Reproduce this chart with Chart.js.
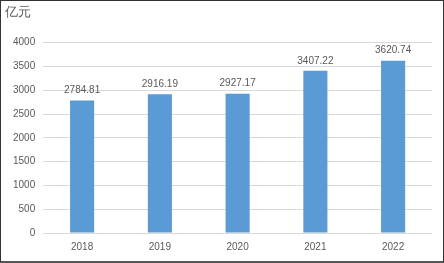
<!DOCTYPE html>
<html><head><meta charset="utf-8">
<script src="https://cdn.jsdelivr.net/npm/chart.js@4/dist/chart.umd.min.js"></script>
<style>
html,body{margin:0;padding:0;background:#fff;}
#wrap{position:relative;width:444px;height:263px;}
#frame{position:absolute;left:0;top:0;right:0;bottom:0;box-sizing:border-box;border:1px solid #333;border-bottom:2px solid #555;pointer-events:none;}
canvas{display:block;}
</style></head>
<body>
<div id="wrap"><canvas id="c" width="444" height="263"></canvas><div id="frame"></div></div>
<script>
const categories = ["2018","2019","2020","2021","2022"];
const values = [2784.81, 2916.19, 2927.17, 3407.22, 3620.74];
const unitLabel = "亿元";
const yTicksMin = 0, yTicksMax = 4000, yTicksStep = 500;

const FONT = "'Liberation Sans', Arial, sans-serif";
const TXT = "#595959";

const valueLabels = {
  id: 'valueLabels',
  afterDatasetsDraw(chart) {
    const ctx = chart.ctx;
    const meta = chart.getDatasetMeta(0);
    ctx.save();
    ctx.font = "10px " + FONT;
    ctx.fillStyle = TXT;
    ctx.textAlign = 'center';
    ctx.textBaseline = 'middle';
    meta.data.forEach((el, i) => {
      ctx.fillText(values[i].toFixed(2), el.x, el.y - 10);
    });
    ctx.restore();
  }
};

new Chart(document.getElementById('c'), {
  type: 'bar',
  data: {
    labels: categories,
    datasets: [{
      data: values,
      backgroundColor: '#5b9bd5',
      borderWidth: 0,
      categoryPercentage: 1,
      barPercentage: 0.31
    }]
  },
  options: {
    responsive: false,
    animation: false,
    devicePixelRatio: 1,
    layout: { padding: { left: 5, right: 12, top: 5, bottom: 2 } },
    plugins: {
      legend: { display: false },
      tooltip: { enabled: false },
      title: {
        display: true,
        text: unitLabel,
        align: 'start',
        color: TXT,
        font: { family: FONT, size: 13, weight: 'normal' },
        padding: { top: 0, bottom: 22 }
      }
    },
    scales: {
      x: {
        grid: { display: false, drawTicks: false },
        border: { display: false },
        ticks: { color: TXT, font: { family: FONT, size: 10 }, padding: 8 }
      },
      y: {
        min: yTicksMin, max: yTicksMax,
        grid: { color: '#d9d9d9', lineWidth: 1, drawTicks: false },
        border: { display: false },
        ticks: { stepSize: yTicksStep, color: TXT, font: { family: FONT, size: 10 }, padding: 8,
                 callback: v => String(v) }
      }
    }
  },
  plugins: [valueLabels]
});
</script>
</body></html>
